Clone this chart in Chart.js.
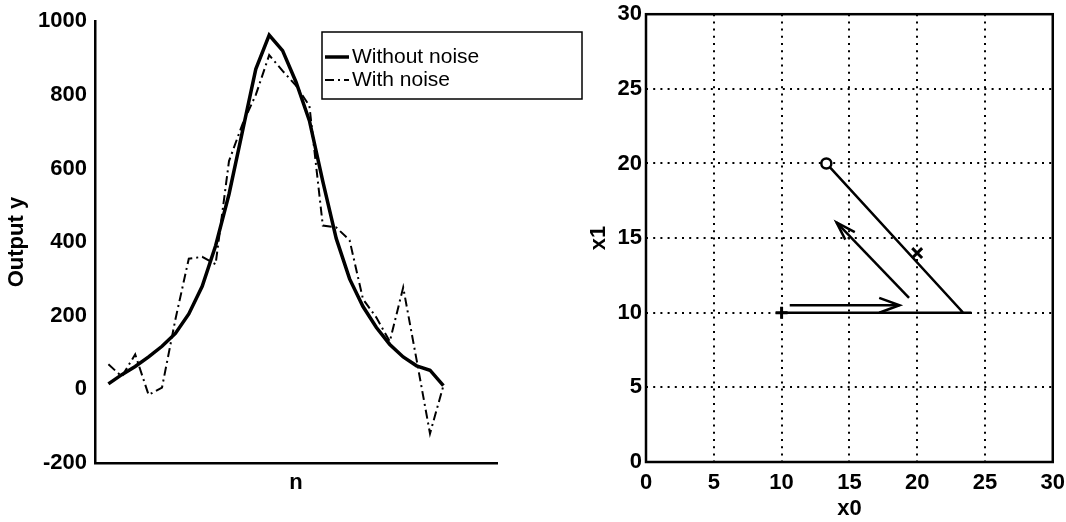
<!DOCTYPE html>
<html>
<head>
<meta charset="utf-8">
<script src="https://cdn.jsdelivr.net/npm/chart.js@4.4.0/dist/chart.umd.min.js"></script>
<style>
  html, body { margin: 0; padding: 0; background: #fff; }
  #wrap { position: relative; width: 1066px; height: 522px; overflow: hidden; }
  #left { position: absolute; left: 0; top: 0; }
  #right { position: absolute; left: 575px; top: -3px; }
</style>
</head>
<body>
<div id="wrap">
  <canvas id="left" width="590" height="522"></canvas>
  <canvas id="right" width="498" height="525"></canvas>
</div>
<script>
// Left plot: output y over sample n
var n = [1, 2, 3, 4, 5, 6, 7, 8, 9, 10, 11, 12, 13, 14, 15, 16, 17, 18, 19, 20, 21, 22, 23, 24, 25, 26];
var withoutNoise = [15, 40, 62, 88, 117, 152, 205, 280, 390, 530, 700, 870, 962, 920, 835, 730, 565, 410, 300, 225, 168, 122, 88, 64, 52, 10];
var withNoise = [68, 35, 95, -15, 5, 190, 355, 360, 340, 620, 720, 800, 908, 865, 825, 770, 445, 440, 405, 245, 195, 130, 277, 80, -120, 10];

// Right plot: state trajectory in (x0, x1)
var pathX0 = [10, 24, 23.4, 13.3];
var pathX1 = [10, 10, 10, 20];
var startPoint = [10, 10];
var circlePoint = [13.3, 20];
var crossPoint = [20, 14];
var arrow1X0 = [10.6, 18.7];
var arrow1X1 = [10.5, 10.5];
var arrow1HeadX0 = [17.2, 18.7, 17.2];
var arrow1HeadX1 = [11.0, 10.5, 10.0];
var arrow2X0 = [19.4, 14.05];
var arrow2X1 = [11.0, 16.05];
var arrow2HeadX0 = [15.4, 14.05, 14.7];
var arrow2HeadX1 = [15.4, 16.05, 14.9];

var FONT = '"Liberation Sans", Arial, Helvetica, sans-serif';

function pts(xs, ys) {
    return xs.map(function (x, i) { return {x: x, y: ys[i]}; });
}

// legend box drawn the MATLAB way, sticking out past the axes
var legendBox = {
    id: 'legendBox',
    afterDraw: function (chart) {
        var ctx = chart.ctx;
        ctx.save();
        ctx.fillStyle = '#fff';
        ctx.fillRect(322, 32, 260, 67);
        ctx.strokeStyle = '#000';
        ctx.lineWidth = 1.5;
        ctx.strokeRect(322, 32, 260, 67);
        chart.data.datasets.forEach(function (ds, i) {
            var y = 57 + i * 23;
            ctx.beginPath();
            ctx.setLineDash(ds.borderDash || []);
            ctx.lineWidth = ds.borderWidth;
            ctx.moveTo(325, y);
            ctx.lineTo(349, y);
            ctx.stroke();
            ctx.setLineDash([]);
            ctx.fillStyle = '#000';
            ctx.font = '21px ' + FONT;
            ctx.textBaseline = 'middle';
            ctx.fillText(ds.label, 352, y);
        });
        ctx.restore();
    }
};

var frameBox = {
    id: 'frameBox',
    afterDraw: function (chart) {
        var a = chart.chartArea, ctx = chart.ctx;
        ctx.save();
        ctx.strokeStyle = '#000';
        ctx.lineWidth = 2.5;
        ctx.strokeRect(a.left, a.top, a.right - a.left, a.bottom - a.top);
        ctx.restore();
    }
};

var tickFont = {family: FONT, size: 22, weight: 'bold'};

// Left chart
new Chart(document.getElementById('left'), {
    type: 'line',
    data: {
        datasets: [{
            label: 'Without noise',
            data: pts(n, withoutNoise),
            borderColor: '#000',
            borderWidth: 3.5,
            pointRadius: 0,
            tension: 0
        }, {
            label: 'With noise',
            data: pts(n, withNoise),
            borderColor: '#000',
            borderWidth: 2,
            borderDash: [9, 4, 2, 4],
            pointRadius: 0,
            tension: 0
        }]
    },
    options: {
        responsive: false,
        animation: false,
        layout: {padding: {top: 15, right: 93, bottom: 0, left: 0}},
        plugins: {legend: {display: false}, tooltip: {enabled: false}},
        scales: {
            x: {
                type: 'linear',
                min: 0,
                max: 30,
                grid: {display: false, drawTicks: false},
                border: {display: true, color: '#000', width: 2.5},
                ticks: {display: false},
                title: {display: true, text: 'n', color: '#000', font: tickFont, padding: {top: 0, bottom: 26}},
                afterFit: function (s) { s.height = 59; }
            },
            y: {
                min: -200,
                max: 1000,
                grid: {display: false, drawTicks: false},
                border: {display: true, color: '#000', width: 2.5},
                ticks: {
                    stepSize: 200,
                    color: '#000',
                    font: tickFont,
                    padding: 8,
                    callback: function (v) { return String(v); }
                },
                title: {display: true, text: 'Output y', color: '#000', font: tickFont, padding: {top: 4, bottom: 0}},
                afterFit: function (s) { s.width = 95; }
            }
        }
    },
    plugins: [legendBox]
});

// Right chart
var lineStyle = {showLine: true, borderColor: '#000', borderWidth: 2.5, pointRadius: 0};
new Chart(document.getElementById('right'), {
    type: 'scatter',
    data: {
        datasets: [
            {data: pts([circlePoint[0]], [circlePoint[1]]), pointStyle: 'circle', pointRadius: 5,
             borderColor: '#000', borderWidth: 2.5, backgroundColor: '#fff'},
            {data: pts([crossPoint[0]], [crossPoint[1]]), pointStyle: 'crossRot', pointRadius: 7,
             borderColor: '#000', borderWidth: 3},
            {data: pts([startPoint[0]], [startPoint[1]]), pointStyle: 'cross', pointRadius: 6,
             borderColor: '#000', borderWidth: 3},
            Object.assign({data: pts(pathX0, pathX1)}, lineStyle),
            Object.assign({data: pts(arrow1X0, arrow1X1)}, lineStyle),
            Object.assign({data: pts(arrow1HeadX0, arrow1HeadX1)}, lineStyle),
            Object.assign({data: pts(arrow2X0, arrow2X1)}, lineStyle),
            Object.assign({data: pts(arrow2HeadX0, arrow2HeadX1)}, lineStyle)
        ]
    },
    options: {
        responsive: false,
        animation: false,
        layout: {padding: {top: 13, right: 13, bottom: 0, left: 0}},
        plugins: {legend: {display: false}, tooltip: {enabled: false}},
        scales: {
            x: {
                min: 0,
                max: 30,
                grid: {color: '#000', lineWidth: 2, drawTicks: false},
                border: {display: false, dash: [2, 5.2]},
                ticks: {stepSize: 5, color: '#000', font: tickFont, padding: 8},
                title: {display: true, text: 'x0', color: '#000', font: tickFont, padding: {top: 0, bottom: 0}},
                afterFit: function (s) { s.height = 60; }
            },
            y: {
                min: 0,
                max: 30,
                grid: {color: '#000', lineWidth: 2, drawTicks: false},
                border: {display: false, dash: [2, 5.2]},
                ticks: {stepSize: 5, color: '#000', font: tickFont, padding: 4},
                title: {display: true, text: 'x1', color: '#000', font: tickFont, padding: {top: 11, bottom: 0}},
                afterFit: function (s) { s.width = 71; }
            }
        }
    },
    plugins: [frameBox]
});
</script>
</body>
</html>
